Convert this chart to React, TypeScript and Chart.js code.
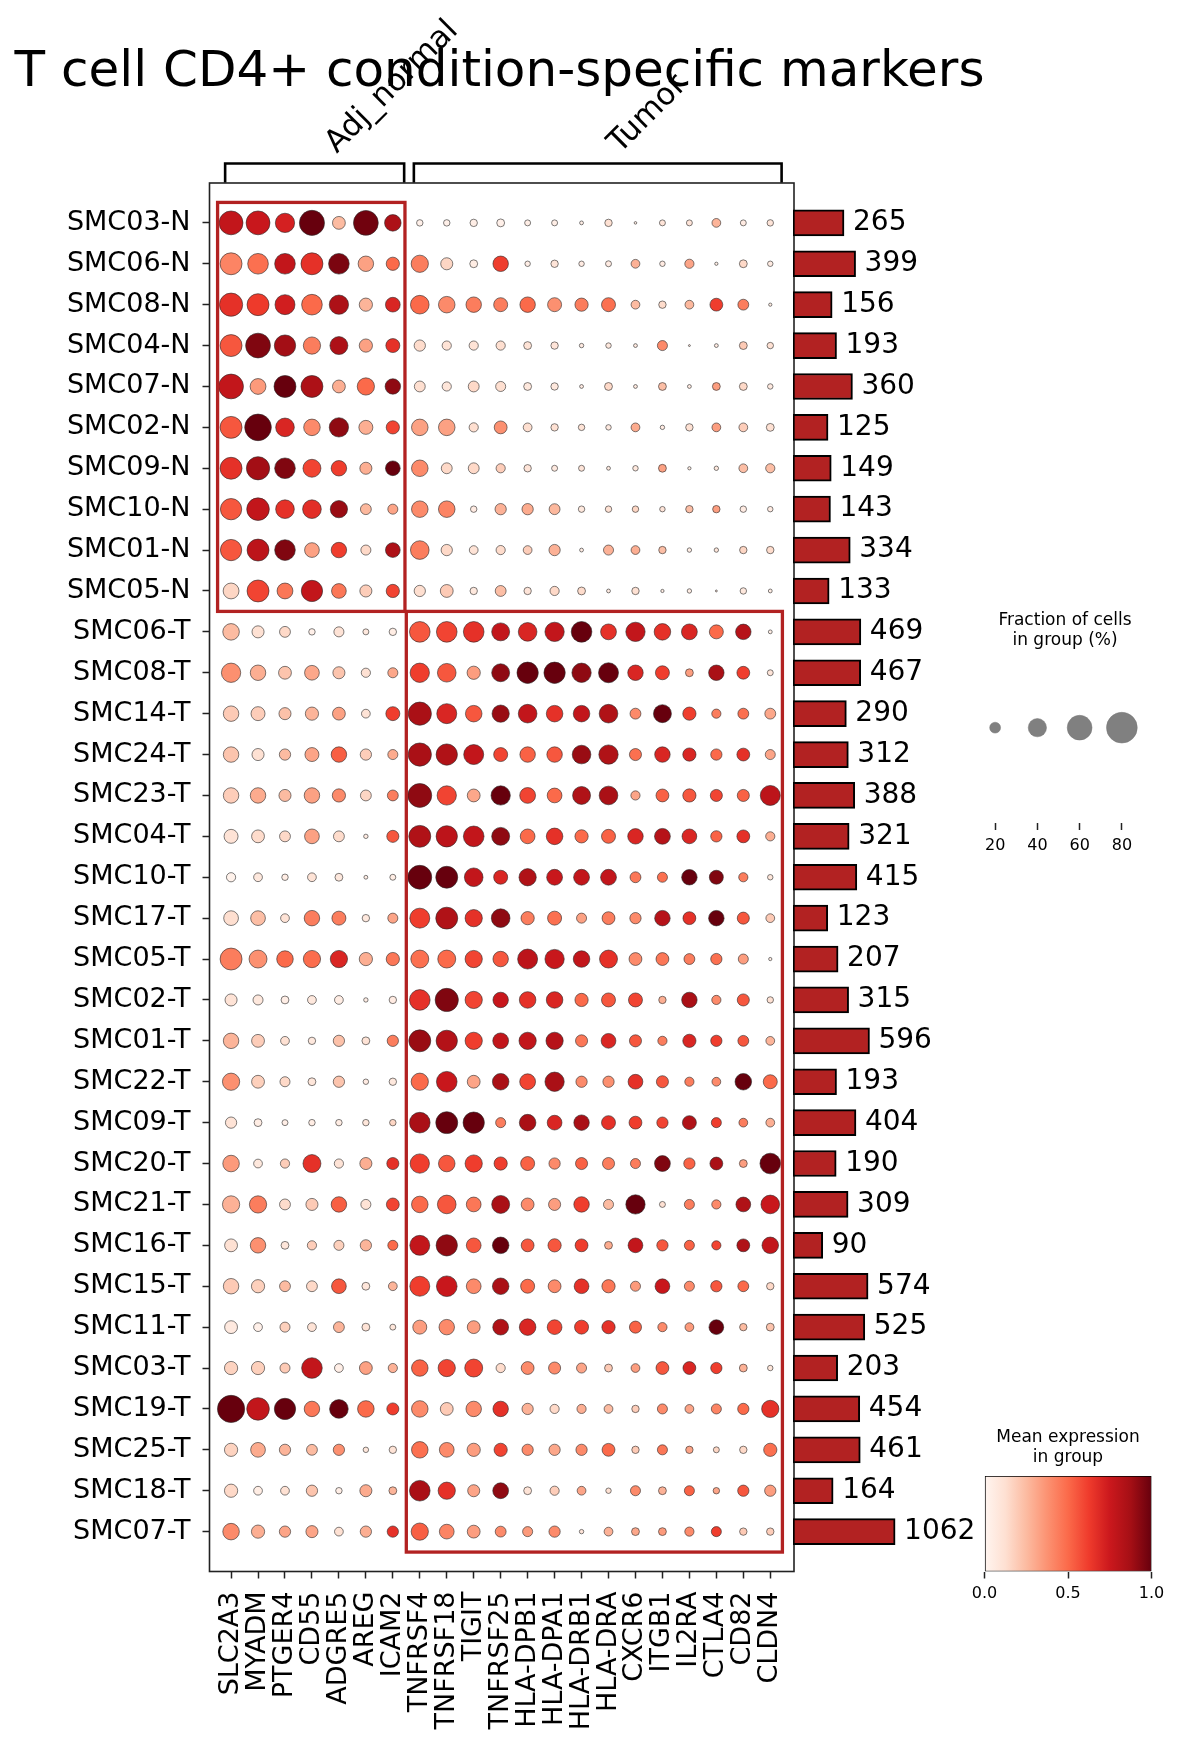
import React, { useEffect, useRef } from "react";
import { Chart, registerables, LinearScale } from "chart.js";

Chart.register(...registerables);

// sqrt-scaled value axis for the cell-count bars
class SqrtScale extends LinearScale {
  static id = "sqrt";
  static defaults = LinearScale.defaults;
  getPixelForValue(value: number) {
    const lo = Math.sqrt(Math.max(0, this.min));
    const hi = Math.sqrt(this.max);
    return this.getPixelForDecimal((Math.sqrt(Math.max(0, value)) - lo) / (hi - lo));
  }
  getValueForPixel(pixel: number) {
    const lo = Math.sqrt(Math.max(0, this.min));
    const hi = Math.sqrt(this.max);
    const s = lo + this.getDecimalForPixel(pixel) * (hi - lo);
    return s * s;
  }
}
Chart.register(SqrtScale);

const chartTitle = "T cell CD4+ condition-specific markers";

const sampleGroups = [
  "SMC03-N", "SMC06-N", "SMC08-N", "SMC04-N", "SMC07-N", "SMC02-N", "SMC09-N", "SMC10-N", "SMC01-N", "SMC05-N",
  "SMC06-T", "SMC08-T", "SMC14-T", "SMC24-T", "SMC23-T", "SMC04-T", "SMC10-T", "SMC17-T", "SMC05-T", "SMC02-T",
  "SMC01-T", "SMC22-T", "SMC09-T", "SMC20-T", "SMC21-T", "SMC16-T", "SMC15-T", "SMC11-T", "SMC03-T", "SMC19-T",
  "SMC25-T", "SMC18-T", "SMC07-T",
];

const genes = [
  "SLC2A3", "MYADM", "PTGER4", "CD55", "ADGRE5", "AREG", "ICAM2",
  "TNFRSF4", "TNFRSF18", "TIGIT", "TNFRSF25", "HLA-DPB1", "HLA-DPA1", "HLA-DRB1",
  "HLA-DRA", "CXCR6", "ITGB1", "IL2RA", "CTLA4", "CD82", "CLDN4",
];

const cellCounts = [
  265, 399, 156, 193, 360, 125, 149, 143, 334, 133,
  469, 467, 290, 312, 388, 321, 415, 123, 207, 315,
  596, 193, 404, 190, 309, 90, 574, 525, 203, 454,
  461, 164, 1062,
];

const conditionNames = ["Adj_normal", "Tumor"];
const conditionGenes = [[0, 6], [7, 20]];
const conditionRows = [[0, 9], [10, 32]];

// fraction of cells expressing (%), one row per sample group
const fractionPct = [
  [57, 57, 43, 61, 25, 60, 35, 10, 10, 12, 13, 9, 9, 5, 12, 3, 9, 9, 15, 9, 10],
  [51, 47, 47, 51, 47, 32, 26, 37, 23, 13, 32, 8, 12, 8, 9, 15, 8, 16, 4, 13, 8],
  [55, 51, 45, 47, 43, 26, 30, 41, 35, 32, 28, 32, 28, 26, 28, 15, 12, 15, 25, 20, 4],
  [51, 60, 49, 37, 39, 26, 28, 21, 16, 16, 16, 13, 12, 6, 8, 5, 18, 2, 5, 13, 10],
  [60, 33, 51, 51, 25, 37, 32, 20, 16, 20, 18, 13, 12, 5, 13, 5, 13, 5, 13, 13, 8],
  [51, 66, 41, 35, 43, 28, 26, 35, 35, 16, 25, 15, 12, 10, 8, 15, 6, 12, 15, 15, 13],
  [51, 55, 47, 39, 32, 23, 30, 35, 20, 20, 16, 12, 9, 9, 5, 8, 13, 4, 6, 15, 16],
  [49, 53, 41, 41, 37, 20, 18, 35, 35, 10, 21, 21, 20, 10, 10, 10, 8, 12, 12, 10, 8],
  [49, 51, 47, 30, 32, 18, 30, 41, 21, 15, 16, 15, 21, 5, 18, 15, 12, 6, 6, 12, 12],
  [33, 51, 33, 49, 30, 23, 26, 21, 25, 12, 20, 12, 16, 13, 5, 12, 4, 6, 2, 10, 5],
  [35, 23, 20, 10, 18, 9, 12, 47, 47, 47, 39, 41, 43, 47, 33, 43, 35, 33, 28, 32, 5],
  [43, 32, 25, 30, 23, 16, 18, 43, 41, 26, 39, 49, 49, 43, 45, 32, 28, 13, 32, 25, 9],
  [32, 28, 23, 26, 25, 15, 28, 55, 45, 35, 37, 41, 35, 35, 41, 20, 39, 26, 16, 20, 20],
  [32, 23, 21, 28, 32, 21, 18, 55, 49, 45, 28, 32, 32, 41, 43, 23, 32, 26, 21, 25, 18],
  [32, 32, 23, 32, 26, 20, 20, 57, 43, 25, 43, 33, 30, 39, 41, 16, 25, 26, 23, 23, 45],
  [28, 25, 20, 30, 20, 6, 23, 51, 49, 47, 39, 30, 35, 26, 28, 32, 33, 30, 21, 25, 16],
  [16, 15, 10, 15, 13, 5, 9, 57, 51, 41, 28, 37, 33, 33, 33, 20, 18, 32, 28, 16, 8],
  [30, 30, 15, 32, 28, 12, 18, 45, 51, 37, 41, 26, 28, 18, 25, 21, 32, 25, 32, 23, 15],
  [51, 39, 35, 37, 37, 26, 26, 39, 39, 37, 32, 45, 43, 35, 39, 25, 25, 20, 21, 18, 4],
  [23, 18, 13, 15, 15, 6, 12, 47, 55, 37, 32, 35, 35, 26, 28, 28, 12, 32, 16, 23, 10],
  [32, 25, 15, 12, 21, 13, 21, 51, 49, 37, 33, 37, 37, 23, 30, 23, 16, 26, 21, 20, 15],
  [37, 25, 18, 13, 21, 8, 12, 37, 47, 25, 35, 33, 43, 21, 21, 30, 23, 16, 15, 35, 28],
  [21, 13, 9, 10, 10, 10, 10, 47, 51, 49, 18, 35, 30, 32, 28, 25, 21, 28, 18, 15, 15],
  [35, 15, 16, 39, 16, 23, 23, 43, 35, 37, 26, 28, 21, 23, 23, 18, 33, 21, 25, 13, 47],
  [37, 37, 20, 23, 32, 18, 25, 35, 41, 30, 39, 25, 23, 32, 18, 43, 9, 18, 16, 30, 41],
  [25, 32, 13, 16, 18, 21, 18, 45, 49, 30, 35, 25, 26, 25, 13, 30, 21, 18, 16, 25, 35],
  [32, 26, 20, 20, 30, 13, 15, 45, 47, 30, 35, 28, 25, 30, 26, 18, 30, 18, 21, 20, 12],
  [25, 15, 18, 15, 20, 13, 9, 28, 32, 25, 33, 35, 30, 28, 26, 23, 16, 15, 30, 12, 13],
  [26, 26, 18, 47, 15, 25, 16, 35, 37, 39, 16, 25, 23, 18, 13, 15, 25, 25, 21, 13, 8],
  [68, 53, 49, 32, 41, 35, 23, 35, 25, 32, 32, 21, 16, 16, 15, 12, 18, 15, 18, 21, 37],
  [26, 30, 21, 20, 21, 8, 12, 35, 30, 26, 26, 21, 21, 21, 25, 12, 18, 12, 9, 12, 26],
  [26, 15, 15, 21, 10, 23, 13, 47, 37, 23, 33, 13, 16, 15, 8, 18, 13, 18, 10, 21, 21],
  [35, 26, 21, 23, 15, 21, 21, 37, 30, 25, 20, 18, 21, 6, 15, 13, 13, 16, 18, 12, 12],
];

// mean expression in group (scaled 0..1)
const meanExpression = [
  [.78, .76, .72, 1.0, .25, .98, .85, .03, .03, .04, .03, .04, .04, .04, .12, .06, .1, .1, .27, .06, .1],
  [.42, .48, .78, .66, .96, .33, .5, .44, .16, .05, .62, .04, .1, .06, .06, .28, .06, .32, .05, .15, .06],
  [.66, .63, .73, .5, .85, .27, .7, .5, .4, .44, .44, .5, .38, .44, .48, .25, .14, .26, .62, .44, .05],
  [.55, .95, .88, .44, .85, .33, .66, .14, .11, .11, .13, .11, .1, .06, .08, .07, .4, .1, .06, .2, .12],
  [.78, .35, 1.0, .85, .29, .5, .92, .13, .09, .15, .13, .08, .08, .06, .15, .07, .24, .06, .34, .15, .07],
  [.55, 1.0, .7, .4, .92, .29, .6, .33, .33, .13, .38, .13, .12, .11, .07, .3, .06, .12, .34, .19, .12],
  [.66, .88, .95, .6, .62, .29, 1.0, .4, .15, .15, .19, .1, .07, .1, .07, .08, .33, .05, .08, .24, .24],
  [.55, .78, .66, .67, .9, .26, .32, .4, .42, .06, .28, .3, .26, .08, .12, .16, .1, .24, .34, .06, .06],
  [.55, .8, .95, .33, .62, .15, .85, .44, .15, .11, .14, .19, .28, .05, .28, .29, .24, .05, .09, .16, .14],
  [.16, .6, .46, .78, .46, .19, .6, .13, .2, .08, .24, .1, .15, .14, .06, .12, .05, .05, .1, .08, .05],
  [.25, .12, .15, .03, .11, .08, .05, .55, .6, .66, .78, .7, .78, 1.0, .66, .78, .66, .7, .5, .82, .05],
  [.38, .29, .22, .31, .22, .12, .31, .62, .55, .34, .92, 1.0, 1.0, .92, 1.0, .7, .62, .34, .86, .62, .1],
  [.2, .19, .23, .27, .33, .11, .62, .86, .7, .55, .9, .78, .66, .78, .84, .4, 1.0, .62, .44, .48, .31],
  [.22, .12, .25, .32, .53, .19, .3, .86, .84, .78, .6, .52, .55, .9, .84, .48, .7, .7, .5, .66, .32],
  [.19, .3, .25, .33, .4, .16, .44, .92, .6, .31, 1.0, .6, .5, .84, .86, .32, .52, .55, .6, .52, .8],
  [.11, .14, .15, .33, .14, .06, .55, .84, .8, .78, .92, .5, .66, .5, .52, .7, .82, .7, .52, .66, .29],
  [.02, .08, .05, .11, .08, .05, .05, 1.0, 1.0, .78, .7, .84, .76, .78, .78, .46, .48, 1.0, .95, .44, .09],
  [.13, .24, .11, .44, .44, .08, .32, .62, .84, .66, .92, .44, .48, .33, .44, .4, .82, .66, 1.0, .55, .2],
  [.44, .38, .5, .49, .7, .29, .46, .48, .5, .6, .55, .8, .76, .78, .66, .4, .46, .44, .48, .34, .05],
  [.11, .08, .04, .08, .05, .05, .06, .66, .95, .6, .76, .66, .7, .5, .55, .6, .29, .86, .4, .55, .12],
  [.27, .19, .12, .08, .23, .11, .44, .9, .83, .62, .78, .78, .82, .46, .7, .55, .44, .7, .62, .55, .27],
  [.38, .18, .15, .09, .22, .06, .08, .5, .76, .32, .86, .6, .86, .4, .38, .66, .55, .44, .4, 1.0, .5],
  [.11, .05, .04, .05, .05, .09, .16, .86, 1.0, 1.0, .44, .86, .7, .86, .66, .62, .6, .84, .62, .44, .29],
  [.35, .08, .19, .66, .11, .29, .66, .62, .55, .62, .62, .52, .4, .52, .44, .44, .95, .52, .86, .34, 1.0],
  [.28, .44, .14, .2, .53, .11, .6, .5, .55, .46, .86, .4, .34, .62, .25, 1.0, .12, .44, .4, .84, .76],
  [.12, .38, .09, .19, .18, .27, .5, .78, .92, .55, 1.0, .55, .55, .62, .3, .78, .55, .52, .6, .84, .78],
  [.2, .18, .25, .15, .55, .09, .27, .62, .76, .4, .86, .5, .4, .66, .46, .35, .76, .4, .55, .5, .15],
  [.07, .03, .18, .11, .27, .11, .09, .34, .4, .34, .84, .7, .6, .62, .66, .52, .4, .35, 1.0, .25, .22],
  [.17, .18, .2, .78, .04, .33, .28, .52, .6, .6, .14, .4, .4, .32, .2, .34, .55, .7, .62, .28, .09],
  [1.0, .78, 1.0, .46, 1.0, .5, .62, .4, .2, .4, .66, .28, .15, .29, .25, .19, .4, .32, .42, .5, .66],
  [.17, .3, .27, .25, .38, .09, .11, .48, .4, .34, .6, .4, .31, .4, .5, .2, .46, .32, .16, .15, .48],
  [.15, .05, .12, .22, .04, .3, .27, .86, .66, .32, .92, .11, .19, .32, .12, .4, .28, .52, .32, .55, .34],
  [.4, .29, .32, .32, .12, .29, .66, .53, .42, .34, .4, .35, .4, .1, .28, .31, .35, .4, .62, .2, .19],
];

const sizeLegendPct = [20, 40, 60, 80];
const colorbarTicks = [0, 0.5, 1];

const FONT = "'DejaVu Sans', sans-serif";
const REDS = ["#fff5f0", "#fee0d2", "#fcbba1", "#fc9272", "#fb6a4a", "#ef3b2c", "#cb181d", "#a50f15", "#67000d"];

function hexRgb(h: string) {
  return [1, 3, 5].map((i) => parseInt(h.slice(i, i + 2), 16));
}

function reds(t: number) {
  const v = Math.min(1, Math.max(0, t)) * (REDS.length - 1);
  const i = Math.min(REDS.length - 2, Math.floor(v));
  const f = v - i;
  const a = hexRgb(REDS[i]);
  const b = hexRgb(REDS[i + 1]);
  const c = a.map((x, k) => Math.round(x + (b[k] - x) * f));
  return `rgb(${c[0]},${c[1]},${c[2]})`;
}

// dot area grows like fraction^1.5
const dotRadius = (pct: number) => 0.575 * Math.pow(pct, 0.75);

const textLines = (id: string, lines: string[], cx: number, y0: number, gap: number, size: number) => ({
  id,
  afterDraw(chart: any) {
    const { ctx } = chart;
    ctx.save();
    ctx.fillStyle = "#000";
    ctx.font = `${size}px ${FONT}`;
    ctx.textAlign = "center";
    ctx.textBaseline = "alphabetic";
    lines.forEach((l, i) => ctx.fillText(l, cx, y0 + i * gap));
    ctx.restore();
  },
});

const dotDecor = {
  id: "dotDecor",
  afterDraw(chart: any) {
    const { ctx, chartArea: a } = chart;
    const x = chart.scales.x;
    const y = chart.scales.y;
    ctx.save();

    ctx.fillStyle = "#000";
    ctx.font = `50px ${FONT}`;
    ctx.textAlign = "left";
    ctx.textBaseline = "alphabetic";
    ctx.fillText(chartTitle, 14.6, 86);

    ctx.strokeStyle = "#222";
    ctx.lineWidth = 1.6;
    ctx.strokeRect(a.left, a.top, a.right - a.left, a.bottom - a.top);

    ctx.strokeStyle = "#b22222";
    ctx.lineWidth = 3.3;
    conditionNames.forEach((_, i) => {
      const x0 = x.getPixelForValue(conditionGenes[i][0] - 0.5);
      const x1 = x.getPixelForValue(conditionGenes[i][1] + 0.45);
      const y0 = y.getPixelForValue(conditionRows[i][0] - 0.5);
      const y1 = y.getPixelForValue(conditionRows[i][1] + 0.5);
      ctx.strokeRect(x0, y0, x1 - x0, y1 - y0);
    });

    ctx.strokeStyle = "#000";
    ctx.lineWidth = 2.6;
    conditionNames.forEach((name, i) => {
      const x0 = x.getPixelForValue(conditionGenes[i][0] - 0.22);
      const x1 = x.getPixelForValue(conditionGenes[i][1] + 0.42);
      const top = a.top - 19.5;
      ctx.beginPath();
      ctx.moveTo(x0, a.top - 0.5);
      ctx.lineTo(x0, top);
      ctx.lineTo(x1, top);
      ctx.lineTo(x1, a.top - 0.5);
      ctx.stroke();

      ctx.save();
      ctx.translate((x0 + x1) / 2 + 22, 154);
      ctx.rotate(-Math.PI / 4);
      ctx.font = `31px ${FONT}`;
      ctx.fillText(name, 0, 0);
      ctx.restore();
    });
    ctx.restore();
  },
};

const barLabels = {
  id: "barLabels",
  afterDatasetsDraw(chart: any) {
    const { ctx } = chart;
    const meta = chart.getDatasetMeta(0);
    ctx.save();
    ctx.fillStyle = "#000";
    ctx.font = `28px ${FONT}`;
    ctx.textAlign = "left";
    ctx.textBaseline = "middle";
    meta.data.forEach((bar: any, i: number) => {
      ctx.fillText(String(cellCounts[i]), bar.x + 9, bar.y);
    });
    ctx.restore();
  },
};

const tickGrid = { drawOnChartArea: false, tickLength: 7, tickWidth: 1.5, color: "#222", tickColor: "#222" };

const noSidePad = (ax: any) => {
  ax.paddingLeft = 0;
  ax.paddingRight = 0;
};

export default function App() {
  const dotRef = useRef<HTMLCanvasElement>(null);
  const barRef = useRef<HTMLCanvasElement>(null);
  const sizeRef = useRef<HTMLCanvasElement>(null);
  const cbarRef = useRef<HTMLCanvasElement>(null);

  useEffect(() => {
    document.body.style.margin = "0";
    const charts: Chart[] = [];

    const dotPoints = fractionPct.flatMap((row, r) =>
      row.map((f, c) => ({ x: c, y: r, f, v: meanExpression[r][c] }))
    );

    charts.push(
      new Chart(dotRef.current as HTMLCanvasElement, {
        type: "scatter",
        data: {
          datasets: [
            {
              data: dotPoints,
              pointRadius: (c: any) => dotRadius(c.raw.f),
              pointHoverRadius: (c: any) => dotRadius(c.raw.f),
              pointBackgroundColor: (c: any) => reds(c.raw.v),
              pointBorderColor: "rgba(40,40,40,0.75)",
              pointBorderWidth: 0.8,
            },
          ],
        },
        options: {
          responsive: false,
          animation: false,
          events: [],
          layout: { padding: { left: 0, top: 183, right: 1177 - 794, bottom: 0 } },
          plugins: { legend: { display: false }, tooltip: { enabled: false } },
          scales: {
            x: {
              type: "linear",
              min: -0.8,
              max: 20.88,
              afterBuildTicks: (ax: any) => {
                ax.ticks = genes.map((_, i) => ({ value: i }));
              },
              afterFit: (ax: any) => {
                ax.height = 1751 - 1571.5;
                noSidePad(ax);
              },
              ticks: {
                autoSkip: false,
                minRotation: 90,
                maxRotation: 90,
                padding: 13,
                color: "#000",
                font: { family: FONT, size: 27 },
                callback: (v: any) => genes[v],
              },
              grid: tickGrid,
              border: { display: false },
            },
            y: {
              type: "linear",
              reverse: true,
              min: -0.975,
              max: 32.975,
              afterBuildTicks: (ax: any) => {
                ax.ticks = sampleGroups.map((_, i) => ({ value: i }));
              },
              afterFit: (ax: any) => {
                ax.width = 209.5;
              },
              ticks: {
                autoSkip: false,
                padding: 12,
                color: "#000",
                font: { family: FONT, size: 27 },
                callback: (v: any) => sampleGroups[v],
              },
              grid: tickGrid,
              border: { display: false },
            },
          },
        } as any,
        plugins: [dotDecor],
      })
    );

    charts.push(
      new Chart(barRef.current as HTMLCanvasElement, {
        type: "bar",
        data: {
          datasets: [
            {
              data: cellCounts.map((n, i) => ({ x: n, y: i })),
              backgroundColor: "#b22222",
              borderColor: "#000",
              borderWidth: 2,
              borderSkipped: false,
              barThickness: 26,
            },
          ],
        },
        options: {
          indexAxis: "y",
          responsive: false,
          animation: false,
          events: [],
          layout: { padding: { left: 3, right: 17, top: 183, bottom: 179.5 } },
          plugins: { legend: { display: false }, tooltip: { enabled: false } },
          scales: {
            x: { type: "sqrt", min: 0, max: 3300, display: false },
            y: { type: "linear", reverse: true, offset: false, min: -0.975, max: 32.975, display: false },
          },
        } as any,
        plugins: [barLabels],
      })
    );

    charts.push(
      new Chart(sizeRef.current as HTMLCanvasElement, {
        type: "scatter",
        data: {
          datasets: [
            {
              data: sizeLegendPct.map((p, i) => ({ x: i, y: 0, f: p })),
              pointRadius: (c: any) => dotRadius(c.raw.f),
              pointHoverRadius: (c: any) => dotRadius(c.raw.f),
              pointBackgroundColor: "#808080",
              pointBorderColor: "#777",
              pointBorderWidth: 0.5,
            },
          ],
        },
        options: {
          responsive: false,
          animation: false,
          events: [],
          layout: { padding: { left: 34, right: 34, top: 60, bottom: 17 } },
          plugins: { legend: { display: false }, tooltip: { enabled: false } },
          scales: {
            x: {
              type: "linear",
              min: -0.5,
              max: 3.5,
              afterBuildTicks: (ax: any) => {
                ax.ticks = sizeLegendPct.map((_, i) => ({ value: i }));
              },
              afterFit: (ax: any) => {
                ax.height = 40;
                noSidePad(ax);
              },
              ticks: {
                autoSkip: false,
                maxRotation: 0,
                padding: 6,
                color: "#000",
                font: { family: FONT, size: 16 },
                callback: (v: any) => String(sizeLegendPct[v]),
              },
              grid: tickGrid,
              border: { display: false },
            },
            y: { type: "linear", min: -1, max: 0.71, display: false },
          },
        } as any,
        plugins: [textLines("sizeTitle", ["Fraction of cells", "in group (%)"], 125, 25, 20, 17)],
      })
    );

    charts.push(
      new Chart(cbarRef.current as HTMLCanvasElement, {
        type: "bar",
        data: {
          labels: [""],
          datasets: [
            {
              data: [[colorbarTicks[0], colorbarTicks[colorbarTicks.length - 1]]],
              backgroundColor: (c: any) => {
                const area = c.chart.chartArea;
                if (!area) return reds(0.5);
                const g = c.chart.ctx.createLinearGradient(area.left, 0, area.right, 0);
                REDS.forEach((s, i) => g.addColorStop(i / (REDS.length - 1), s));
                return g;
              },
              borderColor: "#000",
              borderWidth: 1,
              borderSkipped: false,
              barPercentage: 1,
              categoryPercentage: 1,
            },
          ],
        },
        options: {
          indexAxis: "y",
          responsive: false,
          animation: false,
          events: [],
          layout: { padding: { left: 44.5, right: 25.5, top: 56, bottom: 139.5 } },
          plugins: { legend: { display: false }, tooltip: { enabled: false } },
          scales: {
            x: {
              type: "linear",
              min: 0,
              max: 1,
              afterBuildTicks: (ax: any) => {
                ax.ticks = colorbarTicks.map((v) => ({ value: v }));
              },
              afterFit: (ax: any) => {
                ax.height = 40;
                noSidePad(ax);
              },
              ticks: {
                maxRotation: 0,
                padding: 6,
                color: "#000",
                font: { family: FONT, size: 16 },
                callback: (v: any) => Number(v).toFixed(1),
              },
              grid: tickGrid,
              border: { display: false },
            },
            y: { type: "category", display: false },
          },
        } as any,
        plugins: [textLines("cbarTitle", ["Mean expression", "in group"], 128, 22, 20, 17)],
      })
    );

    return () => charts.forEach((c) => c.destroy());
  }, []);

  const abs = (left: number, top: number): React.CSSProperties => ({ position: "absolute", left, top });

  return (
    <div style={{ position: "relative", width: 1177, height: 1751, background: "#fff" }}>
      <canvas ref={dotRef} width={1177} height={1751} style={abs(0, 0)} />
      <canvas ref={barRef} width={200} height={1751} style={abs(790, 0)} />
      <canvas ref={sizeRef} width={237} height={280} style={abs(940, 600)} />
      <canvas ref={cbarRef} width={237} height={331} style={abs(940, 1420)} />
    </div>
  );
}
